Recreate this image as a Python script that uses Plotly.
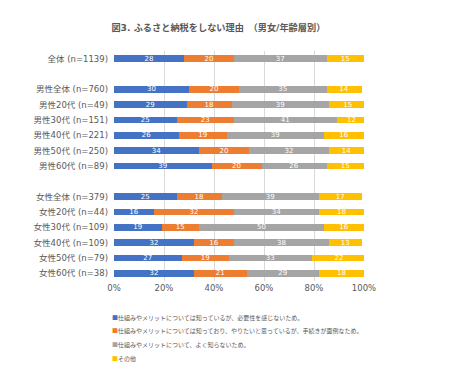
import plotly.graph_objects as go

categories = ["全体 (n=1139)", "", "男性全体 (n=760)", "男性20代 (n=49)", "男性30代 (n=151)",
              "男性40代 (n=221)", "男性50代 (n=250)", "男性60代 (n=89)", " ",
              "女性全体 (n=379)", "女性20代 (n=44)", "女性30代 (n=109)", "女性40代 (n=109)",
              "女性50代 (n=79)", "女性60代 (n=38)"]

series_names = [
    "仕組みやメリットについては知っているが、必要性を感じないため。",
    "仕組みやメリットについては知っており、やりたいと思っているが、手続きが面倒なため。",
    "仕組みやメリットについて、よく知らないため。",
    "その他",
]

s1 = [28, None, 30, 29, 25, 26, 34, 39, None, 25, 16, 19, 32, 27, 32]
s2 = [20, None, 20, 18, 23, 19, 20, 20, None, 18, 32, 15, 16, 19, 21]
s3 = [37, None, 35, 39, 41, 39, 32, 26, None, 39, 34, 50, 38, 33, 29]
s4 = [15, None, 14, 15, 12, 16, 14, 15, None, 17, 18, 16, 13, 22, 18]

colors = ["#4472C4", "#ED7D31", "#A5A5A5", "#FFC000"]

xtick_vals = [0, 20, 40, 60, 80, 100]
xtick_text = ["0%", "20%", "40%", "60%", "80%", "100%"]

font_family = "DejaVu Sans, Noto Sans CJK JP, sans-serif"
cjk_family = "Noto Sans CJK JP, sans-serif"
ypos = list(range(len(categories)))

fig = go.Figure()
for name, vals, col in zip(series_names, [s1, s2, s3, s4], colors):
    fig.add_trace(go.Bar(
        y=ypos, x=vals, name=name, orientation="h",
        marker=dict(color=col, line=dict(width=0)),
        width=0.42,
        text=[("" if v is None else str(v)) for v in vals],
        textposition="inside", insidetextanchor="middle", textangle=0,
        constraintext="none",
        textfont=dict(color="white", size=7, family=font_family),
        hoverinfo="skip",
        showlegend=False,
    ))

# Legend drawn as text annotations (compact spacing like the reference)
legend_y = [-0.157, -0.217, -0.275, -0.335]
for name, col, ly in zip(series_names, colors, legend_y):
    fig.add_annotation(
        xref="paper", yref="paper", x=-0.018, y=ly, xanchor="left", yanchor="middle",
        text=f"<span style='color:{col}'>■</span>{name}",
        showarrow=False, align="left",
        font=dict(size=6.0, color="#595959", family=cjk_family),
    )

# page body has an 8px default margin, so the figure is 442x374 at offset (8, 8)
fig.update_layout(
    barmode="stack",
    width=442, height=374,
    margin=dict(l=106, r=86, t=43, b=101, autoexpand=False),
    paper_bgcolor="white", plot_bgcolor="white",
    font=dict(family=font_family, color="#595959", size=9),
    title=dict(text="<b>図3. ふるさと納税をしない理由　（男女/年齢層別）</b>",
               x=0.476, xanchor="center", y=0.947, yanchor="middle",
               font=dict(size=9.2, color="#595959", family=font_family)),
    xaxis=dict(range=[0, 100], tickvals=xtick_vals, ticktext=xtick_text,
               showgrid=True, gridcolor="#D9D9D9", gridwidth=1, zeroline=False,
               showline=False, ticks="", tickfont=dict(size=8.5, color="#595959")),
    yaxis=dict(range=[14.5, -0.5], tickvals=ypos, ticktext=categories,
               showgrid=False, zeroline=False, showline=False, ticks="",
               ticklabelstandoff=5,
               tickfont=dict(size=8.5, color="#595959")),
    showlegend=False,
)

fig.write_html("out.html")
